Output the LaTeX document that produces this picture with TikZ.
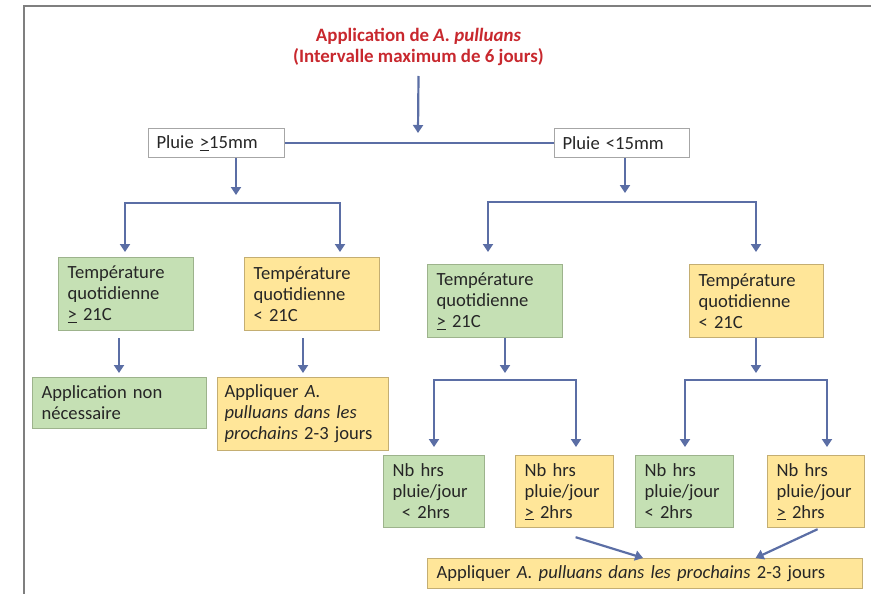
\documentclass[tikz,border=0pt]{standalone}
\usepackage{fontspec}
\setmainfont{Carlito}
\usetikzlibrary{arrows.meta}
\definecolor{lc}{HTML}{5B6EA5}
\definecolor{gfill}{HTML}{C5E0B4}
\definecolor{gdraw}{HTML}{9DB38C}
\definecolor{yfill}{HTML}{FFE699}
\definecolor{ydraw}{HTML}{C4AE72}
\definecolor{tred}{HTML}{C8282E}
\definecolor{txt}{HTML}{262626}
\definecolor{frm}{HTML}{7F7F7F}
\begin{document}
\begin{tikzpicture}[x=1pt,y=-1pt,
  every node/.style={font=\fontsize{18.6}{21}\selectfont, text=txt},
  boxbase/.style={rectangle, anchor=north west, inner xsep=9pt, inner ysep=2pt, align=left, line width=1.2pt},
  gbox/.style={boxbase, fill=gfill, draw=gdraw},
  ybox/.style={boxbase, fill=yfill, draw=ydraw},
  wbox/.style={boxbase, fill=white, draw=gray!70, inner xsep=8pt},
  tip/.style={-{Triangle[width=10pt,length=8pt]}},
  arr/.style={draw=lc, line width=2.2pt, tip},
  barr/.style={draw=lc, line width=2.2pt, {Triangle[width=10pt,length=8pt]}-{Triangle[width=10pt,length=8pt]}},
  hline/.style={draw=lc, line width=1.5pt}]
\useasboundingbox (0,0) rectangle (871,594);
% frame
\draw[frm, line width=2.4pt] (24,594) -- (24,6) -- (871,6);
% title
\node[font=\fontsize{18.9}{21}\selectfont\bfseries, text=tred, align=center] (title) at (418.5,47)
  {Application de \textit{A. pulluans}\\(Intervalle maximum de 6 jours)};
\coordinate (tt) at (418,133);
\draw[arr] (title.south |- 0,76) -- (tt);
% rain boxes
\node[wbox, text width=120pt, minimum height=29pt] (p1) at (148,128) {Pluie \underline{>}15mm};
\node[wbox, text width=119pt, minimum height=29pt] (p2) at (554,128) {Pluie <15mm};
\draw[hline] (p1.east) -- (p2.west);
% temperature boxes
\node[gbox, text width=117pt, minimum height=73pt] (t1) at (58,257) {Température\\quotidienne\\\underline{>} 21C};
\node[ybox, text width=117pt, minimum height=73pt] (t2) at (244,257) {Température\\quotidienne\\< 21C};
\node[gbox, text width=117pt, minimum height=73pt] (t3) at (427,264) {Température\\quotidienne\\\underline{>} 21C};
\node[ybox, text width=116pt, minimum height=73pt] (t4) at (689,264) {Température\\quotidienne\\< 21C};
% left results
\node[gbox, text width=156pt, minimum height=51pt] (a1) at (32,377) {Application non\\nécessaire};
\node[ybox, inner xsep=7pt, text width=157pt, minimum height=73pt] (a2) at (217,377) {Appliquer \textit{A.}\\\textit{pulluans dans les}\\\textit{prochains} 2-3 jours};
% hours boxes
\node[gbox, text width=83pt, minimum height=72pt] (n1) at (383,455) {Nb hrs\\pluie/jour\\\ \,< 2hrs};
\node[ybox, text width=80pt, minimum height=72pt] (n2) at (515,455) {Nb hrs\\pluie/jour\\\underline{>} 2hrs};
\node[gbox, text width=80pt, minimum height=72pt] (n3) at (635,455) {Nb hrs\\pluie/jour\\< 2hrs};
\node[ybox, text width=79pt, minimum height=72pt] (n4) at (767,455) {Nb hrs\\pluie/jour\\\underline{>} 2hrs};
% final
\node[ybox, text width=417pt, minimum height=30pt] (f) at (427,558) {Appliquer \textit{A. pulluans dans les prochains} 2-3 jours};
% left branch
\coordinate (b1) at (236,195);
\draw[arr] (p1.south -| b1) -- (b1);
\coordinate (j1l) at (125,203);
\coordinate (j1r) at (340,203);
\draw[barr, shorten <=5pt, shorten >=5pt] (j1l |- t1.north) |- (j1r) -- (j1r |- t2.north);
% right branch
\coordinate (b2) at (625,193);
\draw[arr] (p2.south -| b2) -- (b2);
\coordinate (j2l) at (488,202);
\coordinate (j2r) at (756,202);
\draw[barr, shorten <=12pt, shorten >=12pt] (j2l |- t3.north) |- (j2r) -- (j2r |- t4.north);
% temperature to results
\coordinate (x1) at (119,0);
\coordinate (x2) at (303,0);
\draw[arr, shorten <=7pt, shorten >=4pt] (t1.south -| x1) -- (a1.north -| x1);
\draw[arr, shorten <=7pt, shorten >=4pt] (t2.south -| x2) -- (a2.north -| x2);
% t3 bracket
\coordinate (x3) at (505,373);
\draw[arr] (t3.south -| x3) -- (x3);
\coordinate (j3l) at (434,380);
\coordinate (j3r) at (576,380);
\draw[barr, shorten <=8pt, shorten >=8pt] (j3l |- n1.north) |- (j3r) -- (j3r |- n2.north);
% t4 bracket
\coordinate (x4) at (756,373);
\draw[arr] (t4.south -| x4) -- (x4);
\coordinate (j4l) at (685,380);
\coordinate (j4r) at (827,380);
\draw[barr, shorten <=8pt, shorten >=8pt] (j4l |- n3.north) |- (j4r) -- (j4r |- n4.north);
% to final
\draw[arr] ([xshift=11pt,yshift=-9pt]n2.south) -- ([xshift=-2pt]f.north);
\draw[arr] ([xshift=1.5pt,yshift=-1pt]n4.south) -- ([xshift=110.5pt]f.north);
\end{tikzpicture}
\end{document}
